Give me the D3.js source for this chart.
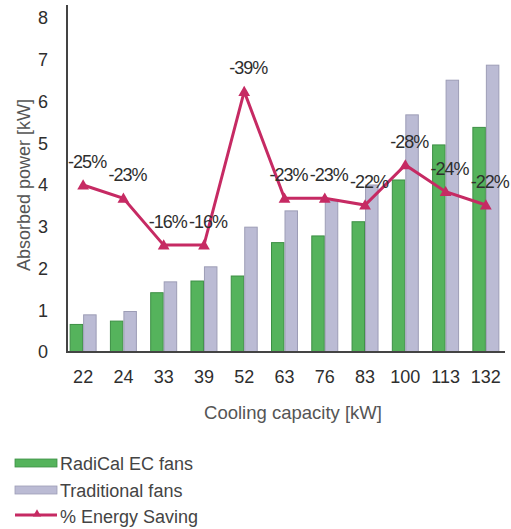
<!DOCTYPE html>
<html>
<head>
<meta charset="utf-8">
<script src="https://cdn.jsdelivr.net/npm/d3@7/dist/d3.min.js"></script>
<style>
  html, body { margin: 0; padding: 0; background: #fff; }
  svg { display: block; font-family: "Liberation Sans", Arial, Helvetica, sans-serif; }
</style>
</head>
<body>
<svg id="chart" width="511" height="529"></svg>
<script>
// Cooling capacity classes (kW)
const categories = ["22", "24", "33", "39", "52", "63", "76", "83", "100", "113", "132"];
// Absorbed power (kW)
const radicalEC = [0.66, 0.74, 1.42, 1.70, 1.82, 2.62, 2.78, 3.12, 4.12, 4.96, 5.38];
const traditional = [0.89, 0.97, 1.68, 2.04, 2.99, 3.38, 3.62, 4.00, 5.68, 6.51, 6.87];
// Energy saving (%)
const saving = [25, 23, 16, 16, 39, 23, 23, 22, 28, 24, 22];
const yTicks = [0, 1, 2, 3, 4, 5, 6, 7, 8];
const seriesNames = ["RadiCal EC fans", "Traditional fans", "% Energy Saving"];

const colGreen = "#55b35c", edgeGreen = "#3d8f45";
const colLav = "#bbbbd4", edgeLav = "#9d9db6";
const colLine = "#c62a63";
const textCol = "#2e2e2e";

const svg = d3.select("#chart");

const y = d3.scaleLinear().domain([0, 8]).range([352, 18]);
// secondary (hidden) scale for the percentage line
const y2 = d3.scaleLinear().domain([0, 50]).range([352, 18]);

const x = d3.scaleBand().domain(categories).range([63, 506])
  .paddingInner(0.33).paddingOuter(0.165);
const xs = d3.scaleBand().domain([0, 1]).range([0, x.bandwidth()]);

const rows = categories.map((c, i) => ({ c, vals: [radicalEC[i], traditional[i]], s: saving[i] }));

// bars
const g = svg.append("g");
rows.forEach(r => {
  r.vals.forEach((v, k) => {
    g.append("rect")
      .attr("x", x(r.c) + xs(k) + 0.5)
      .attr("y", y(v))
      .attr("width", xs.bandwidth() - 1)
      .attr("height", y(0) - y(v))
      .attr("fill", k === 0 ? colGreen : colLav)
      .attr("stroke", k === 0 ? edgeGreen : edgeLav)
      .attr("stroke-width", 1);
  });
});

// axes
const yAxis = d3.axisLeft(y).tickValues(yTicks).tickSize(0).tickPadding(19);
const ya = svg.append("g").attr("transform", "translate(67,0)").call(yAxis);
ya.select(".domain").remove();
ya.selectAll("text").attr("font-size", 18).attr("fill", textCol)
  .attr("font-family", "Liberation Sans, Arial, sans-serif");

const xAxis = d3.axisBottom(x).tickSize(0).tickPadding(18);
const xa = svg.append("g").attr("transform", "translate(0,352)").call(xAxis);
xa.select(".domain").remove();
xa.selectAll("text").attr("font-size", 18).attr("fill", textCol)
  .attr("font-family", "Liberation Sans, Arial, sans-serif");

svg.append("line").attr("x1", 67).attr("x2", 67).attr("y1", 5).attr("y2", 353)
  .attr("stroke", "#444").attr("stroke-width", 2);
svg.append("line").attr("x1", 66).attr("x2", 505).attr("y1", 352).attr("y2", 352)
  .attr("stroke", "#444").attr("stroke-width", 2);

// saving line
const cx = c => x(c) + x.bandwidth() / 2;
const line = d3.line().x(d => cx(d.c)).y(d => y2(d.s));
svg.append("path").datum(rows).attr("d", line)
  .attr("fill", "none").attr("stroke", colLine).attr("stroke-width", 3)
  .attr("stroke-linejoin", "miter");

const tri = d3.symbol().type(d3.symbolTriangle).size(60);
svg.selectAll(".mk").data(rows).enter().append("path")
  .attr("transform", d => `translate(${cx(d.c)},${y2(d.s) + 1})`)
  .attr("d", tri).attr("fill", colLine);

// percentage labels
svg.selectAll(".lbl").data(rows).enter().append("text")
  .attr("x", d => cx(d.c) + 4)
  .attr("y", d => y2(d.s) - 17)
  .attr("text-anchor", "middle")
  .attr("font-size", 18).attr("letter-spacing", -1)
  .attr("fill", textCol)
  .text(d => `-${d.s}%`);

// axis titles
svg.append("text")
  .attr("transform", "translate(30,185) rotate(-90)")
  .attr("text-anchor", "middle").attr("font-size", 18).attr("fill", "#555")
  .text("Absorbed power [kW]");
svg.append("text")
  .attr("x", 293).attr("y", 419)
  .attr("text-anchor", "middle").attr("font-size", 18.5).attr("fill", "#555")
  .text("Cooling capacity [kW]");

// legend
const lg = svg.append("g");
lg.append("rect").attr("x", 15).attr("y", 459).attr("width", 42).attr("height", 8)
  .attr("fill", colGreen).attr("stroke", edgeGreen).attr("stroke-width", 0.8);
lg.append("text").attr("x", 60).attr("y", 470).attr("font-size", 18).attr("fill", "#444")
  .text(seriesNames[0]);
lg.append("rect").attr("x", 15).attr("y", 486).attr("width", 42).attr("height", 8)
  .attr("fill", colLav).attr("stroke", edgeLav).attr("stroke-width", 0.8);
lg.append("text").attr("x", 60).attr("y", 497).attr("font-size", 18).attr("fill", "#444")
  .text(seriesNames[1]);
lg.append("line").attr("x1", 15).attr("x2", 57).attr("y1", 515).attr("y2", 515)
  .attr("stroke", colLine).attr("stroke-width", 3);
lg.append("path").attr("transform", "translate(37,514)")
  .attr("d", d3.symbol().type(d3.symbolTriangle).size(30)).attr("fill", colLine);
lg.append("text").attr("x", 60).attr("y", 523).attr("font-size", 18).attr("fill", "#444")
  .text(seriesNames[2]);
</script>
</body>
</html>
